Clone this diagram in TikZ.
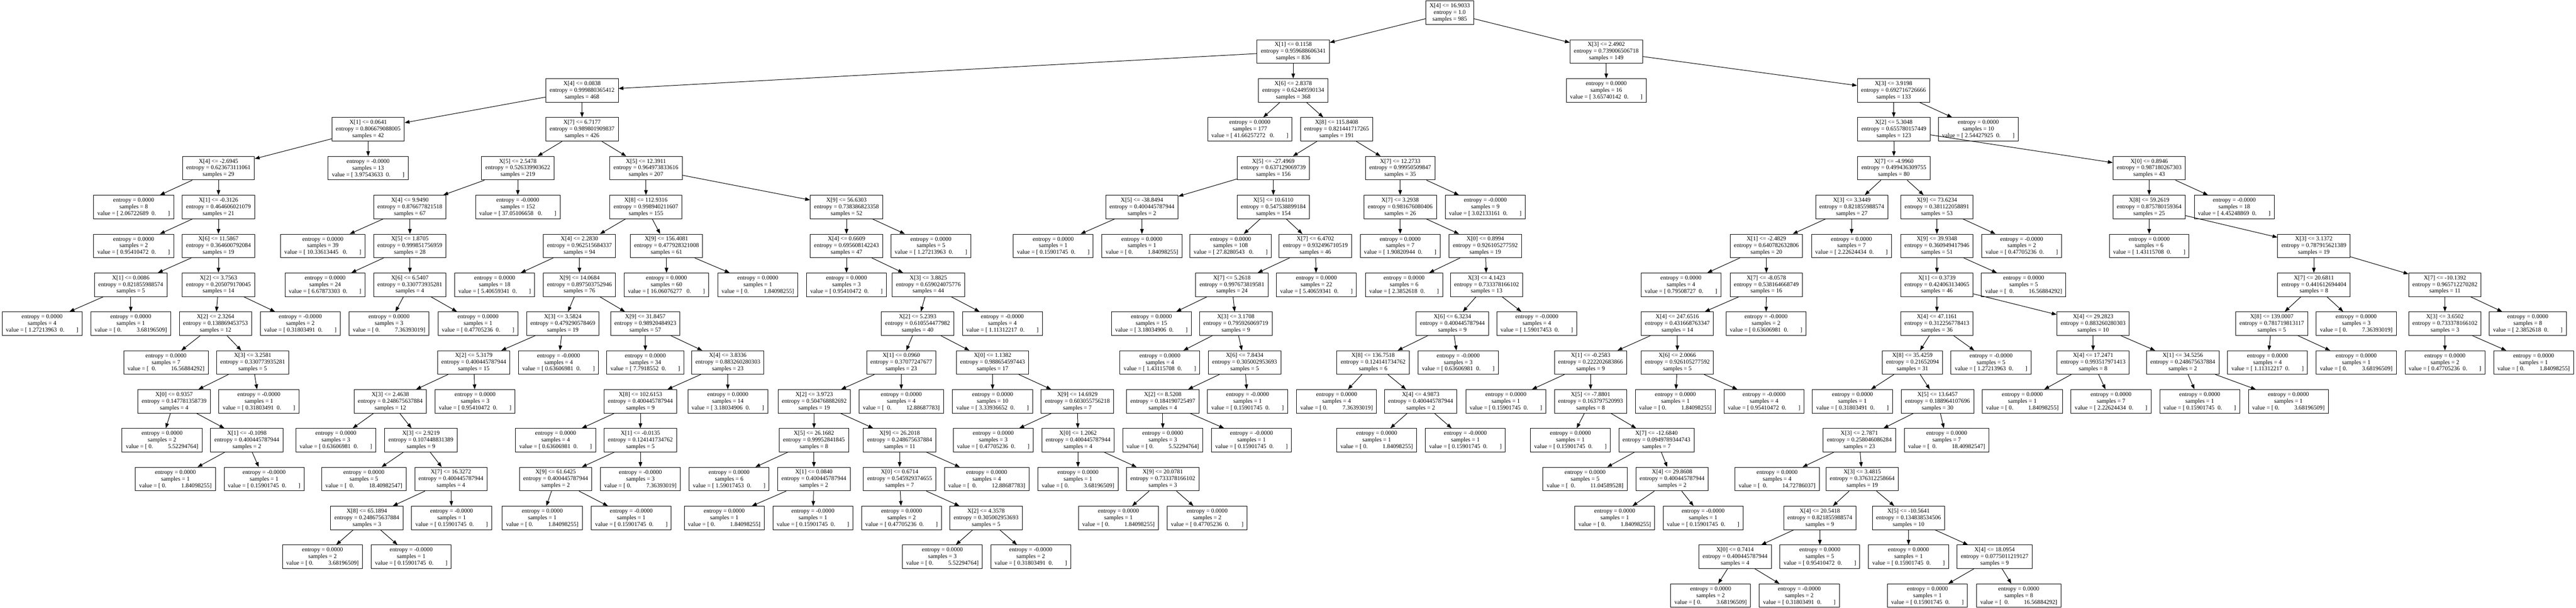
\documentclass[tikz,border=0pt]{standalone}
\usepackage{fontspec}
\setmainfont{Liberation Serif}
\usetikzlibrary{arrows.meta}
\newcommand{\lz}[1]{value = [ #1\ \ 0.\hspace{2em}]}
\newcommand{\lZ}[1]{value = [ #1\ \ \ 0.\hspace{2em}]}
\newcommand{\lo}[1]{value = [ 0.\hspace{2.5em}#1]}
\newcommand{\lO}[1]{value = [\ \ 0.\hspace{2.5em}#1]}
\begin{document}
\begin{tikzpicture}[x=0.01cm,y=-1.19cm,>={Triangle[length=1.5mm,width=1.1mm]},
  cond/.style={draw,line width=0.45pt,align=center,font=\fontsize{5.2}{5.8}\selectfont,inner xsep=3.3pt,inner ysep=1pt,minimum height=0.72cm},
  leaf/.style={cond},
  link/.style={->,line width=0.45pt}]
\useasboundingbox (0,-0.3277) rectangle (7900,15.311);
% level 0-2
\node[cond] (r) at (4446,0) {X[4] <= 16.9033\\entropy = 1.0\\samples = 985};
\node[cond] (a) at (3966,1) {X[1] <= 0.1158\\entropy = 0.959688606341\\samples = 836};
\node[cond] (f) at (4926,1) {X[3] <= 2.4902\\entropy = 0.739006506718\\samples = 149};
\node[cond] (b) at (1785,2) {X[4] <= 0.0838\\entropy = 0.999880365412\\samples = 468};
\node[cond] (e) at (3966,2) {X[6] <= 2.8378\\entropy = 0.62449590134\\samples = 368};
\node[leaf] (fl) at (4926,2) {entropy = 0.0000\\samples = 16\\\lz{3.65740142}};
\node[cond] (g) at (5807,2) {X[3] <= 3.9198\\entropy = 0.692716726666\\samples = 133};
% level 3
\node[cond] (c) at (1129,3) {X[1] <= 0.0641\\entropy = 0.806679088005\\samples = 42};
\node[cond] (d) at (1785,3) {X[7] <= 6.7177\\entropy = 0.989801909837\\samples = 426};
\node[leaf] (el) at (3833,3) {entropy = 0.0000\\samples = 177\\\lZ{41.66257272}};
\node[cond] (e1) at (4099,3) {X[8] <= 115.8408\\entropy = 0.821441717265\\samples = 191};
\node[cond] (g1) at (5808,3) {X[2] <= 5.3048\\entropy = 0.655780157449\\samples = 123};
\node[leaf] (gr) at (6067,3) {entropy = 0.0000\\samples = 10\\\lz{2.54427925}};
% level 4
\node[cond] (c1) at (670,4) {X[4] <= -2.6945\\entropy = 0.623673111061\\samples = 29};
\node[leaf] (cr) at (1129,4) {entropy = -0.0000\\samples = 13\\\lz{3.97543633}};
\node[cond] (d1) at (1588,4) {X[5] <= 2.5478\\entropy = 0.526339903622\\samples = 219};
\node[cond] (d5) at (1981,4) {X[5] <= 12.3911\\entropy = 0.964973833616\\samples = 207};
\node[cond] (e2) at (3905,4) {X[5] <= -27.4969\\entropy = 0.637129069739\\samples = 156};
\node[cond] (e10) at (4294,4) {X[7] <= 12.2733\\entropy = 0.99950509847\\samples = 35};
\node[cond] (g2) at (5808,4) {X[7] <= -4.9960\\entropy = 0.499436309755\\samples = 80};
\node[cond] (g27) at (6591,4) {X[0] <= 0.8946\\entropy = 0.987180267303\\samples = 43};
% level 5
\node[leaf] (c1l) at (410,5) {entropy = 0.0000\\samples = 8\\\lz{2.06722689}};
\node[cond] (c2) at (670,5) {X[1] <= -0.3126\\entropy = 0.464606021079\\samples = 21};
\node[cond] (d2) at (1257,5) {X[4] <= 9.9490\\entropy = 0.876677821518\\samples = 67};
\node[leaf] (d1r) at (1588,5) {entropy = -0.0000\\samples = 152\\\lZ{37.05106658}};
\node[cond] (d6) at (1981,5) {X[8] <= 112.9316\\entropy = 0.998940211607\\samples = 155};
\node[cond] (d21) at (2596,5) {X[9] <= 56.6303\\entropy = 0.738386823358\\samples = 52};
\node[cond] (e3) at (3502,5) {X[5] <= -38.8494\\entropy = 0.400445787944\\samples = 2};
\node[cond] (e4) at (3905,5) {X[5] <= 10.6110\\entropy = 0.547538899184\\samples = 154};
\node[cond] (e11) at (4294,5) {X[7] <= 3.2938\\entropy = 0.981676080406\\samples = 26};
\node[leaf] (e10r) at (4555,5) {entropy = -0.0000\\samples = 9\\\lz{3.02133161}};
\node[cond] (g3) at (5679,5) {X[3] <= 3.3449\\entropy = 0.821855988574\\samples = 27};
\node[cond] (g12) at (5940,5) {X[9] <= 73.6234\\entropy = 0.381122058891\\samples = 53};
\node[cond] (g28) at (6591,5) {X[8] <= 59.2619\\entropy = 0.875780159364\\samples = 25};
\node[leaf] (g27r) at (6852,5) {entropy = -0.0000\\samples = 18\\\lz{4.45248869}};
% level 6
\node[leaf] (c2l) at (410,6) {entropy = 0.0000\\samples = 2\\\lz{0.95410472}};
\node[cond] (c3) at (670,6) {X[6] <= 11.5867\\entropy = 0.364600792084\\samples = 19};
\node[leaf] (d2l) at (990,6) {entropy = 0.0000\\samples = 39\\\lZ{10.33613445}};
\node[cond] (d3) at (1257,6) {X[5] <= 1.8705\\entropy = 0.999851756959\\samples = 28};
\node[cond] (d7) at (1777,6) {X[4] <= 2.2830\\entropy = 0.962515684337\\samples = 94};
\node[cond] (d20) at (2044,6) {X[9] <= 156.4081\\entropy = 0.477928321008\\samples = 61};
\node[cond] (d22) at (2596,6) {X[4] <= 0.6609\\entropy = 0.695608142243\\samples = 47};
\node[leaf] (d21r) at (2855,6) {entropy = 0.0000\\samples = 5\\\lz{1.27213963}};
\node[leaf] (e3l) at (3230,6) {entropy = 0.0000\\samples = 1\\\lz{0.15901745}};
\node[leaf] (e3r) at (3502,6) {entropy = 0.0000\\samples = 1\\\lo{1.84098255}};
\node[leaf] (e4l) at (3774,6) {entropy = 0.0000\\samples = 108\\\lZ{27.8280543}};
\node[cond] (e5) at (4034,6) {X[7] <= 6.4702\\entropy = 0.932496710519\\samples = 46};
\node[leaf] (e11l) at (4294,6) {entropy = 0.0000\\samples = 7\\\lz{1.90820944}};
\node[cond] (e12) at (4555,6) {X[0] <= 0.8994\\entropy = 0.926105277592\\samples = 19};
\node[cond] (g4) at (5417,6) {X[1] <= -2.4829\\entropy = 0.640782632806\\samples = 20};
\node[leaf] (g3r) at (5678,6) {entropy = 0.0000\\samples = 7\\\lz{2.22624434}};
\node[cond] (g13) at (5940,6) {X[9] <= 39.9348\\entropy = 0.360949417946\\samples = 51};
\node[leaf] (g12r) at (6200,6) {entropy = -0.0000\\samples = 2\\\lz{0.47705236}};
\node[leaf] (g28l) at (6591,6) {entropy = 0.0000\\samples = 6\\\lz{1.43115708}};
\node[cond] (g29) at (7096,6) {X[3] <= 3.1372\\entropy = 0.787915621389\\samples = 19};
% level 7
\node[cond] (c4) at (401,7) {X[1] <= 0.0086\\entropy = 0.821855988574\\samples = 5};
\node[cond] (c5) at (670,7) {X[2] <= 3.7563\\entropy = 0.205079170045\\samples = 14};
\node[leaf] (d3l) at (997,7) {entropy = 0.0000\\samples = 24\\\lz{6.67873303}};
\node[cond] (d4) at (1257,7) {X[6] <= 6.5407\\entropy = 0.330773935281\\samples = 4};
\node[leaf] (d7l) at (1517,7) {entropy = 0.0000\\samples = 18\\\lz{5.40659341}};
\node[cond] (d8) at (1777,7) {X[9] <= 14.0684\\entropy = 0.897503752946\\samples = 76};
\node[leaf] (d20l) at (2044,7) {entropy = 0.0000\\samples = 60\\\lZ{16.06076277}};
\node[leaf] (d20r) at (2324,7) {entropy = 0.0000\\samples = 1\\\lo{1.84098255}};
\node[leaf] (d22l) at (2596,7) {entropy = 0.0000\\samples = 3\\\lz{0.95410472}};
\node[cond] (d23) at (2847,7) {X[3] <= 3.8825\\entropy = 0.659024075776\\samples = 44};
\node[cond] (e6) at (3778,7) {X[7] <= 5.2618\\entropy = 0.997673819581\\samples = 24};
\node[leaf] (e5r) at (4037,7) {entropy = 0.0000\\samples = 22\\\lz{5.40659341}};
\node[leaf] (e12l) at (4306,7) {entropy = 0.0000\\samples = 6\\\lz{2.3852618}};
\node[cond] (e13) at (4559,7) {X[3] <= 4.1423\\entropy = 0.733378166102\\samples = 13};
\node[leaf] (g4l) at (5155,7) {entropy = 0.0000\\samples = 4\\\lz{0.79508727}};
\node[cond] (g5) at (5417,7) {X[7] <= -8.0578\\entropy = 0.538164668749\\samples = 16};
\node[cond] (g14) at (5940,7) {X[1] <= 0.3739\\entropy = 0.424063134065\\samples = 46};
\node[leaf] (g13r) at (6206,7) {entropy = 0.0000\\samples = 5\\\lO{16.56884292}};
\node[cond] (g30) at (7096,7) {X[7] <= 20.6811\\entropy = 0.441612694404\\samples = 8};
\node[cond] (g32) at (7498,7) {X[7] <= -10.1392\\entropy = 0.965712270282\\samples = 11};
% level 8
\node[leaf] (c4l) at (129,8) {entropy = 0.0000\\samples = 4\\\lz{1.27213963}};
\node[leaf] (c4r) at (401,8) {entropy = 0.0000\\samples = 1\\\lo{3.68196509}};
\node[cond] (c6) at (661,8) {X[2] <= 2.3264\\entropy = 0.138869453753\\samples = 12};
\node[leaf] (c5r) at (921,8) {entropy = -0.0000\\samples = 2\\\lz{0.31803491}};
\node[leaf] (d4l) at (1193,8) {entropy = 0.0000\\samples = 3\\\lo{7.36393019}};
\node[leaf] (d4r) at (1466,8) {entropy = 0.0000\\samples = 1\\\lz{0.47705236}};
\node[cond] (d9) at (1726,8) {X[3] <= 3.5824\\entropy = 0.479290578469\\samples = 19};
\node[cond] (d15) at (1979,8) {X[9] <= 31.8457\\entropy = 0.98920484923\\samples = 57};
\node[cond] (d24) at (2814,8) {X[2] <= 5.2393\\entropy = 0.610554477982\\samples = 40};
\node[leaf] (d23r) at (3074,8) {entropy = -0.0000\\samples = 4\\\lz{1.11312217}};
\node[leaf] (e6l) at (3531,8) {entropy = 0.0000\\samples = 15\\\lz{3.18034906}};
\node[cond] (e7) at (3790,8) {X[3] <= 3.1708\\entropy = 0.795926069719\\samples = 9};
\node[cond] (e14) at (4454,8) {X[6] <= 6.3234\\entropy = 0.400445787944\\samples = 9};
\node[leaf] (e13r) at (4713,8) {entropy = -0.0000\\samples = 4\\\lz{1.59017453}};
\node[cond] (g6) at (5144,8) {X[4] <= 247.6516\\entropy = 0.431668763347\\samples = 14};
\node[leaf] (g5r) at (5416,8) {entropy = -0.0000\\samples = 2\\\lz{0.63606981}};
\node[cond] (g15) at (5940,8) {X[4] <= 47.1161\\entropy = 0.312256778413\\samples = 36};
\node[cond] (g24) at (6419,8) {X[4] <= 29.2823\\entropy = 0.883260280303\\samples = 10};
\node[cond] (g31) at (6967,8) {X[8] <= 139.0007\\entropy = 0.781719813117\\samples = 5};
\node[leaf] (g30r) at (7226,8) {entropy = 0.0000\\samples = 3\\\lo{7.36393019}};
\node[cond] (g33) at (7498,8) {X[3] <= 3.6502\\entropy = 0.733378166102\\samples = 3};
\node[leaf] (g32r) at (7752,8) {entropy = 0.0000\\samples = 8\\\lz{2.3852618}};
% level 9
\node[leaf] (c6l) at (509,9) {entropy = 0.0000\\samples = 7\\\lO{16.56884292}};
\node[cond] (c7) at (775,9) {X[3] <= 3.2581\\entropy = 0.330773935281\\samples = 5};
\node[cond] (d10) at (1453,9) {X[2] <= 5.3179\\entropy = 0.400445787944\\samples = 15};
\node[leaf] (d9r) at (1713,9) {entropy = -0.0000\\samples = 4\\\lz{0.63606981}};
\node[leaf] (d15l) at (1979,9) {entropy = 0.0000\\samples = 34\\\lz{7.7918552}};
\node[cond] (d16) at (2232,9) {X[4] <= 3.8336\\entropy = 0.883260280303\\samples = 23};
\node[cond] (d25) at (2764,9) {X[1] <= 0.0960\\entropy = 0.37077247677\\samples = 23};
\node[cond] (d32) at (3044,9) {X[0] <= 1.1382\\entropy = 0.988654597443\\samples = 17};
\node[leaf] (e7l) at (3557,9) {entropy = 0.0000\\samples = 4\\\lz{1.43115708}};
\node[cond] (e8) at (3817,9) {X[6] <= 7.8434\\entropy = 0.305002953693\\samples = 5};
\node[cond] (e15) at (4211,9) {X[8] <= 136.7518\\entropy = 0.124141734762\\samples = 6};
\node[leaf] (e14r) at (4472,9) {entropy = -0.0000\\samples = 3\\\lz{0.63606981}};
\node[cond] (g7) at (4878,9) {X[1] <= -0.2583\\entropy = 0.222202683866\\samples = 9};
\node[cond] (g11) at (5144,9) {X[6] <= 2.0066\\entropy = 0.926105277592\\samples = 5};
\node[cond] (g16) at (5865,9) {X[8] <= 35.4259\\entropy = 0.21652094\\samples = 31};
\node[leaf] (g15r) at (6106,9) {entropy = -0.0000\\samples = 5\\\lz{1.27213963}};
\node[cond] (g25) at (6419,9) {X[4] <= 17.2471\\entropy = 0.993517971413\\samples = 8};
\node[cond] (g26) at (6694,9) {X[1] <= 34.5256\\entropy = 0.248675637884\\samples = 2};
\node[leaf] (g31l) at (6954,9) {entropy = 0.0000\\samples = 4\\\lz{1.11312217}};
\node[leaf] (g31r) at (7226,9) {entropy = 0.0000\\samples = 1\\\lo{3.68196509}};
\node[leaf] (g33l) at (7498,9) {entropy = 0.0000\\samples = 2\\\lz{0.47705236}};
\node[leaf] (g33r) at (7770,9) {entropy = 0.0000\\samples = 1\\\lo{1.84098255}};
% level 10
\node[cond] (c8) at (534,10) {X[0] <= 0.9357\\entropy = 0.147781358739\\samples = 4};
\node[leaf] (c7r) at (794,10) {entropy = -0.0000\\samples = 1\\\lz{0.31803491}};
\node[cond] (d11) at (1197,10) {X[3] <= 2.4638\\entropy = 0.248675637884\\samples = 12};
\node[leaf] (d10r) at (1457,10) {entropy = 0.0000\\samples = 3\\\lz{0.95410472}};
\node[cond] (d17) at (1964,10) {X[8] <= 102.6153\\entropy = 0.400445787944\\samples = 9};
\node[leaf] (d16r) at (2232,10) {entropy = 0.0000\\samples = 14\\\lz{3.18034906}};
\node[cond] (d26) at (2497,10) {X[2] <= 3.9723\\entropy = 0.504768882692\\samples = 19};
\node[leaf] (d25r) at (2764,10) {entropy = 0.0000\\samples = 4\\\lO{12.88687783}};
\node[leaf] (d32l) at (3044,10) {entropy = 0.0000\\samples = 10\\\lz{3.33936652}};
\node[cond] (d33) at (3304,10) {X[9] <= 14.6929\\entropy = 0.603055756218\\samples = 7};
\node[cond] (e9) at (3566,10) {X[2] <= 8.5208\\entropy = 0.184190725497\\samples = 4};
\node[leaf] (e8r) at (3826,10) {entropy = -0.0000\\samples = 1\\\lz{0.15901745}};
\node[leaf] (e15l) at (4099,10) {entropy = 0.0000\\samples = 4\\\lo{7.36393019}};
\node[cond] (e16) at (4357,10) {X[4] <= 4.9873\\entropy = 0.400445787944\\samples = 2};
\node[leaf] (g7l) at (4618,10) {entropy = 0.0000\\samples = 1\\\lz{0.15901745}};
\node[cond] (g8) at (4878,10) {X[5] <= -7.8801\\entropy = 0.163797520993\\samples = 8};
\node[leaf] (g11l) at (5138,10) {entropy = 0.0000\\samples = 1\\\lo{1.84098255}};
\node[leaf] (g11r) at (5410,10) {entropy = -0.0000\\samples = 4\\\lz{0.95410472}};
\node[leaf] (g16l) at (5681,10) {entropy = 0.0000\\samples = 1\\\lz{0.31803491}};
\node[cond] (g17) at (5942,10) {X[5] <= 13.6457\\entropy = 0.188964107696\\samples = 30};
\node[leaf] (g25l) at (6202,10) {entropy = 0.0000\\samples = 1\\\lo{1.84098255}};
\node[leaf] (g25r) at (6474,10) {entropy = 0.0000\\samples = 7\\\lz{2.22624434}};
\node[leaf] (g26l) at (6746,10) {entropy = 0.0000\\samples = 1\\\lz{0.15901745}};
\node[leaf] (g26r) at (7018,10) {entropy = 0.0000\\samples = 1\\\lo{3.68196509}};
% level 11
\node[leaf] (c8l) at (497,11) {entropy = 0.0000\\samples = 2\\\lo{5.52294764}};
\node[cond] (c9) at (757,11) {X[1] <= -0.1098\\entropy = 0.400445787944\\samples = 2};
\node[leaf] (d11l) at (1030,11) {entropy = 0.0000\\samples = 3\\\lz{0.63606981}};
\node[cond] (d12) at (1291,11) {X[3] <= 2.9219\\entropy = 0.107448831389\\samples = 9};
\node[leaf] (d17l) at (1704,11) {entropy = 0.0000\\samples = 4\\\lz{0.63606981}};
\node[cond] (d18) at (1964,11) {X[1] <= -0.0135\\entropy = 0.124141734762\\samples = 5};
\node[cond] (d27) at (2496,11) {X[5] <= 26.1682\\entropy = 0.99952841845\\samples = 8};
\node[cond] (d29) at (2759,11) {X[9] <= 26.2018\\entropy = 0.248675637884\\samples = 11};
\node[leaf] (d33l) at (3046,11) {entropy = 0.0000\\samples = 3\\\lz{0.47705236}};
\node[cond] (d34) at (3306,11) {X[0] <= 1.2062\\entropy = 0.400445787944\\samples = 4};
\node[leaf] (e9l) at (3566,11) {entropy = 0.0000\\samples = 3\\\lo{5.52294764}};
\node[leaf] (e9r) at (3838,11) {entropy = -0.0000\\samples = 1\\\lz{0.15901745}};
\node[leaf] (e16l) at (4222,11) {entropy = 0.0000\\samples = 1\\\lo{1.84098255}};
\node[leaf] (e16r) at (4494,11) {entropy = -0.0000\\samples = 1\\\lz{0.15901745}};
\node[leaf] (g8l) at (4816,11) {entropy = 0.0000\\samples = 1\\\lz{0.15901745}};
\node[cond] (g9) at (5080,11) {X[7] <= -12.6840\\entropy = 0.0949789344743\\samples = 7};
\node[cond] (g18) at (5702,11) {X[3] <= 2.7871\\entropy = 0.258046086284\\samples = 23};
\node[leaf] (g17r) at (5970,11) {entropy = 0.0000\\samples = 7\\\lO{18.40982547}};
% level 12
\node[leaf] (c9l) at (538,12) {entropy = 0.0000\\samples = 1\\\lo{1.84098255}};
\node[leaf] (c9r) at (810,12) {entropy = -0.0000\\samples = 1\\\lz{0.15901745}};
\node[leaf] (d12l) at (1116,12) {entropy = 0.0000\\samples = 5\\\lO{18.40982547}};
\node[cond] (d13) at (1383,12) {X[7] <= 16.3272\\entropy = 0.400445787944\\samples = 4};
\node[cond] (d19) at (1704,12) {X[9] <= 61.6425\\entropy = 0.400445787944\\samples = 2};
\node[leaf] (d18r) at (1964,12) {entropy = -0.0000\\samples = 3\\\lo{7.36393019}};
\node[leaf] (d27l) at (2236,12) {entropy = 0.0000\\samples = 6\\\lz{1.59017453}};
\node[cond] (d28) at (2496,12) {X[1] <= 0.0840\\entropy = 0.400445787944\\samples = 2};
\node[cond] (d30) at (2759,12) {X[0] <= 0.6714\\entropy = 0.545929374655\\samples = 7};
\node[leaf] (d29r) at (3026,12) {entropy = 0.0000\\samples = 4\\\lO{12.88687783}};
\node[leaf] (d34l) at (3306,12) {entropy = 0.0000\\samples = 1\\\lo{3.68196509}};
\node[cond] (d35) at (3566,12) {X[9] <= 20.0781\\entropy = 0.733378166102\\samples = 3};
\node[leaf] (g9l) at (4861,12) {entropy = 0.0000\\samples = 5\\\lO{11.04589528}};
\node[cond] (g10) at (5128,12) {X[4] <= 29.8608\\entropy = 0.400445787944\\samples = 2};
\node[leaf] (g18l) at (5450,12) {entropy = 0.0000\\samples = 4\\\lO{14.72786037}};
\node[cond] (g19) at (5711,12) {X[3] <= 3.4815\\entropy = 0.376312258664\\samples = 19};
% level 13
\node[cond] (d14) at (1125,13) {X[8] <= 65.1894\\entropy = 0.248675637884\\samples = 3};
\node[leaf] (d13r) at (1385,13) {entropy = -0.0000\\samples = 1\\\lz{0.15901745}};
\node[leaf] (d19l) at (1663,13) {entropy = 0.0000\\samples = 1\\\lo{1.84098255}};
\node[leaf] (d19r) at (1936,13) {entropy = -0.0000\\samples = 1\\\lz{0.15901745}};
\node[leaf] (d28l) at (2221,13) {entropy = 0.0000\\samples = 1\\\lo{1.84098255}};
\node[leaf] (d28r) at (2493,13) {entropy = -0.0000\\samples = 1\\\lz{0.15901745}};
\node[leaf] (d30l) at (2765,13) {entropy = 0.0000\\samples = 2\\\lz{0.47705236}};
\node[cond] (d31) at (3024,13) {X[2] <= 4.3578\\entropy = 0.305002953693\\samples = 5};
\node[leaf] (d35l) at (3430,13) {entropy = 0.0000\\samples = 1\\\lo{1.84098255}};
\node[leaf] (d35r) at (3702,13) {entropy = 0.0000\\samples = 2\\\lz{0.47705236}};
\node[leaf] (g10l) at (4952,13) {entropy = 0.0000\\samples = 1\\\lo{1.84098255}};
\node[leaf] (g10r) at (5223,13) {entropy = -0.0000\\samples = 1\\\lz{0.15901745}};
\node[cond] (g20) at (5581,13) {X[4] <= 20.5418\\entropy = 0.821855988574\\samples = 9};
\node[cond] (g22) at (5853,13) {X[5] <= -10.5641\\entropy = 0.134838534506\\samples = 10};
% level 14
\node[leaf] (d14l) at (989,14) {entropy = 0.0000\\samples = 2\\\lo{3.68196509}};
\node[leaf] (d14r) at (1261,14) {entropy = -0.0000\\samples = 1\\\lz{0.15901745}};
\node[leaf] (d31l) at (2890,14) {entropy = 0.0000\\samples = 3\\\lo{5.52294764}};
\node[leaf] (d31r) at (3161,14) {entropy = -0.0000\\samples = 2\\\lz{0.31803491}};
\node[cond] (g21) at (5321,14) {X[0] <= 0.7414\\entropy = 0.400445787944\\samples = 4};
\node[leaf] (g20r) at (5581,14) {entropy = 0.0000\\samples = 5\\\lz{0.95410472}};
\node[leaf] (g22l) at (5853,14) {entropy = 0.0000\\samples = 1\\\lz{0.15901745}};
\node[cond] (g23) at (6117,14) {X[4] <= 18.0954\\entropy = 0.0775011219127\\samples = 9};
% level 15
\node[leaf] (g21l) at (5246,15) {entropy = 0.0000\\samples = 2\\\lo{3.68196509}};
\node[leaf] (g21r) at (5518,15) {entropy = -0.0000\\samples = 2\\\lz{0.31803491}};
\node[leaf] (g23l) at (5911,15) {entropy = 0.0000\\samples = 1\\\lz{0.15901745}};
\node[leaf] (g23r) at (6191,15) {entropy = 0.0000\\samples = 8\\\lO{16.56884292}};
% arrows
\draw[link] (r) -- (a);
\draw[link] (r) -- (f);
\draw[link] (a) -- (b);
\draw[link] (a) -- (e);
\draw[link] (f) -- (fl);
\draw[link] (f) -- (g);
\draw[link] (b) -- (c);
\draw[link] (b) -- (d);
\draw[link] (e) -- (el);
\draw[link] (e) -- (e1);
\draw[link] (g) -- (g1);
\draw[link] (g) -- (gr);
\draw[link] (c) -- (c1);
\draw[link] (c) -- (cr);
\draw[link] (c1) -- (c1l);
\draw[link] (c1) -- (c2);
\draw[link] (c2) -- (c2l);
\draw[link] (c2) -- (c3);
\draw[link] (c3) -- (c4);
\draw[link] (c3) -- (c5);
\draw[link] (c4) -- (c4l);
\draw[link] (c4) -- (c4r);
\draw[link] (c5) -- (c6);
\draw[link] (c5) -- (c5r);
\draw[link] (c6) -- (c6l);
\draw[link] (c6) -- (c7);
\draw[link] (c7) -- (c8);
\draw[link] (c7) -- (c7r);
\draw[link] (c8) -- (c8l);
\draw[link] (c8) -- (c9);
\draw[link] (c9) -- (c9l);
\draw[link] (c9) -- (c9r);
\draw[link] (d) -- (d1);
\draw[link] (d) -- (d5);
\draw[link] (d1) -- (d2);
\draw[link] (d1) -- (d1r);
\draw[link] (d2) -- (d2l);
\draw[link] (d2) -- (d3);
\draw[link] (d3) -- (d3l);
\draw[link] (d3) -- (d4);
\draw[link] (d4) -- (d4l);
\draw[link] (d4) -- (d4r);
\draw[link] (d5) -- (d6);
\draw[link] (d5) -- (d21);
\draw[link] (d6) -- (d7);
\draw[link] (d6) -- (d20);
\draw[link] (d7) -- (d7l);
\draw[link] (d7) -- (d8);
\draw[link] (d8) -- (d9);
\draw[link] (d8) -- (d15);
\draw[link] (d9) -- (d10);
\draw[link] (d9) -- (d9r);
\draw[link] (d10) -- (d11);
\draw[link] (d10) -- (d10r);
\draw[link] (d11) -- (d11l);
\draw[link] (d11) -- (d12);
\draw[link] (d12) -- (d12l);
\draw[link] (d12) -- (d13);
\draw[link] (d13) -- (d14);
\draw[link] (d13) -- (d13r);
\draw[link] (d14) -- (d14l);
\draw[link] (d14) -- (d14r);
\draw[link] (d15) -- (d15l);
\draw[link] (d15) -- (d16);
\draw[link] (d16) -- (d17);
\draw[link] (d16) -- (d16r);
\draw[link] (d17) -- (d17l);
\draw[link] (d17) -- (d18);
\draw[link] (d18) -- (d19);
\draw[link] (d18) -- (d18r);
\draw[link] (d19) -- (d19l);
\draw[link] (d19) -- (d19r);
\draw[link] (d20) -- (d20l);
\draw[link] (d20) -- (d20r);
\draw[link] (d21) -- (d22);
\draw[link] (d21) -- (d21r);
\draw[link] (d22) -- (d22l);
\draw[link] (d22) -- (d23);
\draw[link] (d23) -- (d24);
\draw[link] (d23) -- (d23r);
\draw[link] (d24) -- (d25);
\draw[link] (d24) -- (d32);
\draw[link] (d25) -- (d26);
\draw[link] (d25) -- (d25r);
\draw[link] (d26) -- (d27);
\draw[link] (d26) -- (d29);
\draw[link] (d27) -- (d27l);
\draw[link] (d27) -- (d28);
\draw[link] (d28) -- (d28l);
\draw[link] (d28) -- (d28r);
\draw[link] (d29) -- (d30);
\draw[link] (d29) -- (d29r);
\draw[link] (d30) -- (d30l);
\draw[link] (d30) -- (d31);
\draw[link] (d31) -- (d31l);
\draw[link] (d31) -- (d31r);
\draw[link] (d32) -- (d32l);
\draw[link] (d32) -- (d33);
\draw[link] (d33) -- (d33l);
\draw[link] (d33) -- (d34);
\draw[link] (d34) -- (d34l);
\draw[link] (d34) -- (d35);
\draw[link] (d35) -- (d35l);
\draw[link] (d35) -- (d35r);
\draw[link] (e1) -- (e2);
\draw[link] (e1) -- (e10);
\draw[link] (e2) -- (e3);
\draw[link] (e2) -- (e4);
\draw[link] (e3) -- (e3l);
\draw[link] (e3) -- (e3r);
\draw[link] (e4) -- (e4l);
\draw[link] (e4) -- (e5);
\draw[link] (e5) -- (e6);
\draw[link] (e5) -- (e5r);
\draw[link] (e6) -- (e6l);
\draw[link] (e6) -- (e7);
\draw[link] (e7) -- (e7l);
\draw[link] (e7) -- (e8);
\draw[link] (e8) -- (e9);
\draw[link] (e8) -- (e8r);
\draw[link] (e9) -- (e9l);
\draw[link] (e9) -- (e9r);
\draw[link] (e10) -- (e11);
\draw[link] (e10) -- (e10r);
\draw[link] (e11) -- (e11l);
\draw[link] (e11) -- (e12);
\draw[link] (e12) -- (e12l);
\draw[link] (e12) -- (e13);
\draw[link] (e13) -- (e14);
\draw[link] (e13) -- (e13r);
\draw[link] (e14) -- (e15);
\draw[link] (e14) -- (e14r);
\draw[link] (e15) -- (e15l);
\draw[link] (e15) -- (e16);
\draw[link] (e16) -- (e16l);
\draw[link] (e16) -- (e16r);
\draw[link] (g1) -- (g2);
\draw[link] (g1) -- (g27);
\draw[link] (g2) -- (g3);
\draw[link] (g2) -- (g12);
\draw[link] (g3) -- (g4);
\draw[link] (g3) -- (g3r);
\draw[link] (g4) -- (g4l);
\draw[link] (g4) -- (g5);
\draw[link] (g5) -- (g6);
\draw[link] (g5) -- (g5r);
\draw[link] (g6) -- (g7);
\draw[link] (g6) -- (g11);
\draw[link] (g7) -- (g7l);
\draw[link] (g7) -- (g8);
\draw[link] (g8) -- (g8l);
\draw[link] (g8) -- (g9);
\draw[link] (g9) -- (g9l);
\draw[link] (g9) -- (g10);
\draw[link] (g10) -- (g10l);
\draw[link] (g10) -- (g10r);
\draw[link] (g11) -- (g11l);
\draw[link] (g11) -- (g11r);
\draw[link] (g12) -- (g13);
\draw[link] (g12) -- (g12r);
\draw[link] (g13) -- (g14);
\draw[link] (g13) -- (g13r);
\draw[link] (g14) -- (g15);
\draw[link] (g14) -- (g24);
\draw[link] (g15) -- (g16);
\draw[link] (g15) -- (g15r);
\draw[link] (g16) -- (g16l);
\draw[link] (g16) -- (g17);
\draw[link] (g17) -- (g18);
\draw[link] (g17) -- (g17r);
\draw[link] (g18) -- (g18l);
\draw[link] (g18) -- (g19);
\draw[link] (g19) -- (g20);
\draw[link] (g19) -- (g22);
\draw[link] (g20) -- (g21);
\draw[link] (g20) -- (g20r);
\draw[link] (g21) -- (g21l);
\draw[link] (g21) -- (g21r);
\draw[link] (g22) -- (g22l);
\draw[link] (g22) -- (g23);
\draw[link] (g23) -- (g23l);
\draw[link] (g23) -- (g23r);
\draw[link] (g24) -- (g25);
\draw[link] (g24) -- (g26);
\draw[link] (g25) -- (g25l);
\draw[link] (g25) -- (g25r);
\draw[link] (g26) -- (g26l);
\draw[link] (g26) -- (g26r);
\draw[link] (g27) -- (g28);
\draw[link] (g27) -- (g27r);
\draw[link] (g28) -- (g28l);
\draw[link] (g28) -- (g29);
\draw[link] (g29) -- (g30);
\draw[link] (g29) -- (g32);
\draw[link] (g30) -- (g31);
\draw[link] (g30) -- (g30r);
\draw[link] (g31) -- (g31l);
\draw[link] (g31) -- (g31r);
\draw[link] (g32) -- (g33);
\draw[link] (g32) -- (g32r);
\draw[link] (g33) -- (g33l);
\draw[link] (g33) -- (g33r);
\end{tikzpicture}
\end{document}
